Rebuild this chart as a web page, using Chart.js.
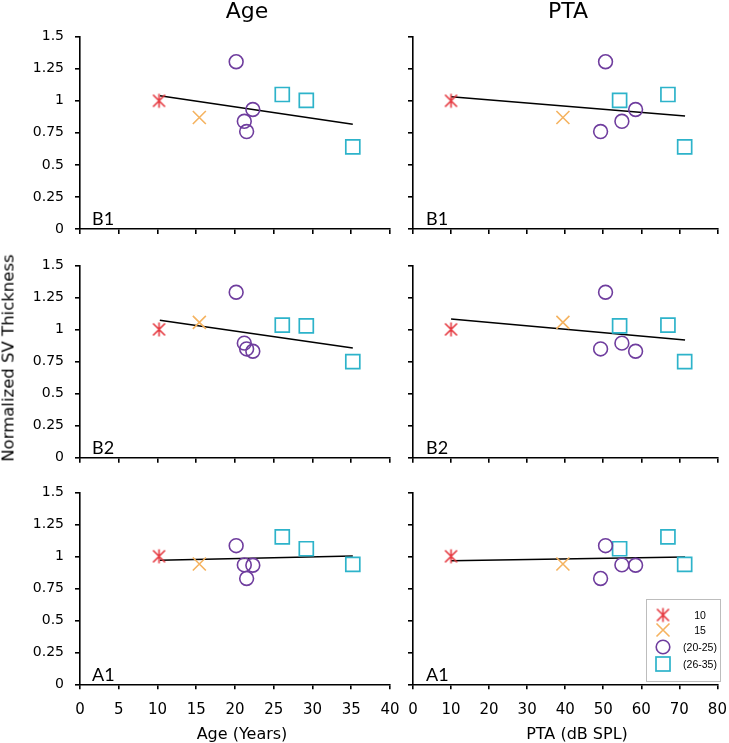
<!DOCTYPE html>
<html><head><meta charset="utf-8">
<script src="https://cdn.jsdelivr.net/npm/chart.js@4.4.1/dist/chart.umd.min.js"></script>
<style>
html,body{margin:0;padding:0;background:#fff;}
#wrap{position:relative;width:729px;height:743px;overflow:hidden;background:#fff;}
canvas.layer{position:absolute;left:0;top:0;}
.txt{position:absolute;white-space:nowrap;color:#000;line-height:1;}
.ctr{transform:translate(-50%,-50%);}
</style></head><body>
<div id="wrap">
<canvas class="layer" id="c0" width="729" height="743"></canvas>
<canvas class="layer" id="c1" width="729" height="743"></canvas>
<canvas class="layer" id="c2" width="729" height="743"></canvas>
<canvas class="layer" id="c3" width="729" height="743"></canvas>
<canvas class="layer" id="c4" width="729" height="743"></canvas>
<canvas class="layer" id="c5" width="729" height="743"></canvas>

<div class="txt ctr" style="left:247px;top:10px;font:22px 'DejaVu Sans';">Age</div>
<div class="txt ctr" style="left:568px;top:10px;font:22px 'DejaVu Sans';">PTA</div>
<div class="txt ctr" style="left:242px;top:733px;font:16px 'DejaVu Sans';">Age (Years)</div>
<div class="txt ctr" style="left:577px;top:733px;font:16px 'DejaVu Sans';">PTA (dB SPL)</div>
<div class="txt" style="left:8px;top:358px;font:16.5px 'DejaVu Sans';transform:translate(-50%,-50%) rotate(-90deg);">Normalized SV Thickness</div>

<div class="txt" style="left:92px;top:207px;font:18px Lato;">B1</div>
<div class="txt" style="left:426px;top:207px;font:18px Lato;">B1</div>
<div class="txt" style="left:92px;top:436px;font:18px Lato;">B2</div>
<div class="txt" style="left:426px;top:436px;font:18px Lato;">B2</div>
<div class="txt" style="left:92px;top:663px;font:18px Lato;">A1</div>
<div class="txt" style="left:426px;top:663px;font:18px Lato;">A1</div>

<div style="position:absolute;left:646px;top:599px;width:73px;height:81px;border:1px solid #bdbdbd;"></div>
<div id="legtxt"></div>
</div>
<script>
// ---------- data ----------
const groupLabels = ['10', '15', '(20-25)', '(26-35)'];
const yTickLabels = ['0', '0.25', '0.5', '0.75', '1', '1.25', '1.5'];

// x values (same subjects in every row)
const age10 = [10.2];
const age15 = [15.4];
const age2025 = [20.15, 21.2, 21.5, 22.3];
const age2635 = [26.1, 29.2, 35.2];

const pta10 = [10.0];
const pta15 = [39.4];
const pta2025 = [50.6, 54.9, 49.3, 58.5];
const pta2635 = [67.0, 54.3, 71.4];

// normalized SV thickness
const b1_10 = [1.0];
const b1_15 = [0.87];
const b1_2025 = [1.305, 0.84, 0.76, 0.932];
const b1_2635 = [1.049, 1.004, 0.64];

const b2_10 = [1.0];
const b2_15 = [1.055];
const b2_2025 = [1.29, 0.893, 0.848, 0.83];
const b2_2635 = [1.033, 1.028, 0.749];

const a1_10 = [1.0];
const a1_15 = [0.94];
const a1_2025 = [1.083, 0.933, 0.827, 0.93];
const a1_2635 = [1.151, 1.059, 0.9375];

// trend lines (end points)
const trendAgeX = [10.3, 35.2];
const trendPtaX = [10.0, 71.5];
const trendB1Age = [1.04, 0.817];
const trendB2Age = [1.071, 0.855];
const trendA1Age = [0.969, 1.002];
const trendB1Pta = [1.032, 0.881];
const trendB2Pta = [1.081, 0.917];
const trendA1Pta = [0.966, 0.995];

// ---------- styles ----------
const RED = '#e5383f', ORANGE = '#f5b360', PURPLE = '#6f3d9e', CYAN = '#2db3ca';

function makeStar(color) {
  const c = document.createElement('canvas');
  c.width = 17; c.height = 17;
  const g = c.getContext('2d');
  g.strokeStyle = color; g.lineWidth = 1.6; g.lineCap = 'butt';
  g.beginPath();
  g.moveTo(8.5, 1.5); g.lineTo(8.5, 15.5);
  g.moveTo(2.5, 2.5); g.lineTo(14.5, 14.5);
  g.moveTo(14.5, 2.5); g.lineTo(2.5, 14.5);
  g.stroke();
  return c;
}
const starImg = makeStar(RED);

function pts(xs, ys) { return xs.map((x, i) => ({x: x, y: ys[i]})); }

function groupDatasets(xs, ys, trendX, trendY) {
  return [
    {data: pts(xs[0], ys[0]), pointStyle: starImg, pointRadius: 7, borderColor: RED, backgroundColor: 'rgba(0,0,0,0)'},
    {data: pts(xs[1], ys[1]), pointStyle: 'crossRot', pointRadius: 9.2, pointBorderWidth: 1.6, borderColor: ORANGE, backgroundColor: 'rgba(0,0,0,0)'},
    {data: pts(xs[2], ys[2]), pointStyle: 'circle', pointRadius: 6.9, pointBorderWidth: 1.6, borderColor: PURPLE, backgroundColor: 'rgba(0,0,0,0)'},
    {data: pts(xs[3], ys[3]), pointStyle: 'rect', pointRadius: 9.9, pointBorderWidth: 1.7, borderColor: CYAN, backgroundColor: 'rgba(0,0,0,0)'},
    {data: pts(trendX, trendY), showLine: true, pointRadius: 0, borderColor: '#000', borderWidth: 1.5, fill: false}
  ];
}

const W = 729, H = 743;
function makeChart(id, cfg) {
  const yW = cfg.yLabels ? 50 : 10;
  const xH = cfg.xLabels ? 40 : 10;
  const plugins = cfg.extraPlugins || [];
  return new Chart(document.getElementById(id), {
    type: 'scatter',
    data: {datasets: cfg.datasets},
    plugins: plugins,
    options: {
      responsive: false, animation: false, devicePixelRatio: 1,
      layout: {padding: {left: cfg.area[0] - yW, top: cfg.area[1], right: W - cfg.area[2], bottom: H - cfg.area[3] - xH}},
      plugins: {legend: {display: false}, tooltip: {enabled: false}, title: {display: false}},
      events: [],
      scales: {
        x: {
          type: 'linear', position: 'bottom', min: 0, max: cfg.xMax,
          ticks: {stepSize: cfg.xStep, display: cfg.xLabels, autoSkip: false, maxRotation: 0, color: '#000', padding: 12,
                  font: {family: 'DejaVu Sans', size: 15}},
          grid: {drawOnChartArea: false, drawTicks: true, tickLength: 5, color: '#000', lineWidth: 1.6},
          border: {color: '#000', width: 1.6},
          afterFit: (s) => { s.height = xH; s.paddingLeft = 0; s.paddingRight = 0; }
        },
        y: {
          type: 'linear', position: 'left', min: 0, max: 1.5,
          ticks: {stepSize: 0.25, display: cfg.yLabels, autoSkip: false, color: '#000', padding: 11,
                  font: {family: 'DejaVu Sans', size: 14},
                  callback: (v, i) => yTickLabels[i]},
          grid: {drawOnChartArea: false, drawTicks: true, tickLength: 5, color: '#000', lineWidth: 1.6},
          border: {color: '#000', width: 1.6},
          afterFit: (s) => { s.width = yW; s.paddingTop = 0; s.paddingBottom = 0; }
        }
      }
    }
  });
}

const ageX = [age10, age15, age2025, age2635];
const ptaX = [pta10, pta15, pta2025, pta2635];
const B1 = [b1_10, b1_15, b1_2025, b1_2635];
const B2 = [b2_10, b2_15, b2_2025, b2_2635];
const A1 = [a1_10, a1_15, a1_2025, a1_2635];

const L = [80, 390], R = [413, 721];
const rows = [[36.7, 229], [265.3, 457.7], [492.3, 684.3]];

// legend marker drawing (inside bottom-right panel)
const legendRowsY = [615, 630, 647, 664];
const legendX = 663;
const legendPlugin = {
  id: 'boxLegend',
  afterDraw(chart) {
    const g = chart.ctx;
    g.save();
    g.drawImage(starImg, legendX - 8.5, legendRowsY[0] - 8.5);
    g.strokeStyle = ORANGE; g.lineWidth = 1.6;
    g.beginPath();
    g.moveTo(legendX - 6.5, legendRowsY[1] - 6.5); g.lineTo(legendX + 6.5, legendRowsY[1] + 6.5);
    g.moveTo(legendX + 6.5, legendRowsY[1] - 6.5); g.lineTo(legendX - 6.5, legendRowsY[1] + 6.5);
    g.stroke();
    g.strokeStyle = PURPLE;
    g.beginPath(); g.arc(legendX, legendRowsY[2], 6.8, 0, Math.PI * 2); g.stroke();
    g.strokeStyle = CYAN; g.lineWidth = 1.7;
    g.strokeRect(legendX - 7, legendRowsY[3] - 7, 14, 14);
    g.restore();
  }
};
const legTxt = document.getElementById('legtxt');
groupLabels.forEach((t, i) => {
  const d = document.createElement('div');
  d.className = 'txt ctr';
  d.style.cssText = 'left:700px;top:' + legendRowsY[i] + 'px;font:10.5px "Liberation Sans";';
  d.textContent = t;
  legTxt.appendChild(d);
});

makeChart('c0', {area: [L[0], rows[0][0], L[1], rows[0][1]], xMax: 40, xStep: 5, xLabels: false, yLabels: true,
  datasets: groupDatasets(ageX, B1, trendAgeX, trendB1Age)});
makeChart('c1', {area: [R[0], rows[0][0], R[1], rows[0][1]], xMax: 80, xStep: 10, xLabels: false, yLabels: false,
  datasets: groupDatasets(ptaX, B1, trendPtaX, trendB1Pta)});
makeChart('c2', {area: [L[0], rows[1][0], L[1], rows[1][1]], xMax: 40, xStep: 5, xLabels: false, yLabels: true,
  datasets: groupDatasets(ageX, B2, trendAgeX, trendB2Age)});
makeChart('c3', {area: [R[0], rows[1][0], R[1], rows[1][1]], xMax: 80, xStep: 10, xLabels: false, yLabels: false,
  datasets: groupDatasets(ptaX, B2, trendPtaX, trendB2Pta)});
makeChart('c4', {area: [L[0], rows[2][0], L[1], rows[2][1]], xMax: 40, xStep: 5, xLabels: true, yLabels: true,
  datasets: groupDatasets(ageX, A1, trendAgeX, trendA1Age)});
makeChart('c5', {area: [R[0], rows[2][0], R[1], rows[2][1]], xMax: 80, xStep: 10, xLabels: true, yLabels: false,
  datasets: groupDatasets(ptaX, A1, trendPtaX, trendA1Pta), extraPlugins: [legendPlugin]});
</script>
</body></html>
